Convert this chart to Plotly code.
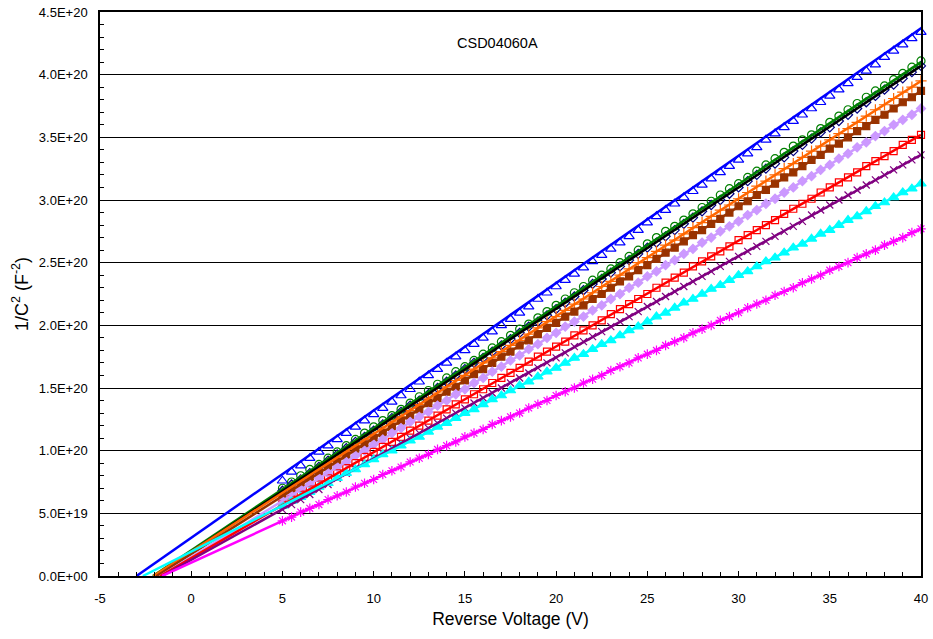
import plotly.graph_objects as go

# Reverse voltage (V) at each measured point
voltage = [5.0, 5.5, 6.0, 6.5, 7.0, 7.5, 8.0, 8.5, 9.0, 9.5,
           10.0, 10.5, 11.0, 11.5, 12.0, 12.5, 13.0, 13.5, 14.0, 14.5,
           15.0, 15.5, 16.0, 16.5, 17.0, 17.5, 18.0, 18.5, 19.0, 19.5,
           20.0, 20.5, 21.0, 21.5, 22.0, 22.5, 23.0, 23.5, 24.0, 24.5,
           25.0, 25.5, 26.0, 26.5, 27.0, 27.5, 28.0, 28.5, 29.0, 29.5,
           30.0, 30.5, 31.0, 31.5, 32.0, 32.5, 33.0, 33.5, 34.0, 34.5,
           35.0, 35.5, 36.0, 36.5, 37.0, 37.5, 38.0, 38.5, 39.0, 39.5, 40.0]

# 1/C^2 values in units of 1E+20 F^-2
s_blue = [0.76, 0.83, 0.88, 0.94, 0.99, 1.04, 1.09, 1.14, 1.19, 1.24,
          1.29, 1.34, 1.39, 1.44, 1.49, 1.55, 1.60, 1.65, 1.70, 1.75,
          1.80, 1.85, 1.90, 1.95, 2.00, 2.05, 2.10, 2.15, 2.21, 2.26,
          2.31, 2.36, 2.41, 2.46, 2.51, 2.56, 2.61, 2.66, 2.71, 2.76,
          2.82, 2.87, 2.92, 2.97, 3.02, 3.07, 3.12, 3.17, 3.22, 3.27,
          3.32, 3.37, 3.42, 3.48, 3.53, 3.58, 3.63, 3.68, 3.73, 3.78,
          3.83, 3.88, 3.93, 3.98, 4.03, 4.08, 4.14, 4.19, 4.24, 4.29, 4.34]
s_green = [0.70, 0.75, 0.80, 0.85, 0.89, 0.94, 0.99, 1.04, 1.09, 1.14,
           1.19, 1.24, 1.28, 1.33, 1.38, 1.43, 1.48, 1.53, 1.58, 1.63,
           1.67, 1.72, 1.77, 1.82, 1.87, 1.92, 1.97, 2.01, 2.06, 2.11,
           2.16, 2.21, 2.26, 2.31, 2.36, 2.40, 2.45, 2.50, 2.55, 2.60,
           2.65, 2.70, 2.75, 2.79, 2.84, 2.89, 2.94, 2.99, 3.04, 3.09,
           3.13, 3.18, 3.23, 3.28, 3.33, 3.38, 3.43, 3.48, 3.52, 3.57,
           3.62, 3.67, 3.72, 3.77, 3.82, 3.87, 3.91, 3.96, 4.01, 4.06, 4.11]
s_navy = [0.68, 0.73, 0.77, 0.82, 0.87, 0.92, 0.97, 1.02, 1.07, 1.11,
          1.16, 1.21, 1.26, 1.31, 1.36, 1.40, 1.45, 1.50, 1.55, 1.60,
          1.65, 1.70, 1.74, 1.79, 1.84, 1.89, 1.94, 1.99, 2.03, 2.08,
          2.13, 2.18, 2.23, 2.28, 2.33, 2.37, 2.42, 2.47, 2.52, 2.57,
          2.62, 2.66, 2.71, 2.76, 2.81, 2.86, 2.91, 2.96, 3.00, 3.05,
          3.10, 3.15, 3.20, 3.25, 3.29, 3.34, 3.39, 3.44, 3.49, 3.54,
          3.58, 3.63, 3.68, 3.73, 3.78, 3.83, 3.88, 3.92, 3.97, 4.02, 4.07]
s_orange = [0.66, 0.71, 0.76, 0.80, 0.85, 0.90, 0.95, 0.99, 1.04, 1.09,
            1.13, 1.18, 1.23, 1.27, 1.32, 1.37, 1.42, 1.46, 1.51, 1.56,
            1.60, 1.65, 1.70, 1.74, 1.79, 1.84, 1.88, 1.93, 1.98, 2.03,
            2.07, 2.12, 2.17, 2.21, 2.26, 2.31, 2.35, 2.40, 2.45, 2.50,
            2.54, 2.59, 2.64, 2.68, 2.73, 2.78, 2.82, 2.87, 2.92, 2.96,
            3.01, 3.06, 3.11, 3.15, 3.20, 3.25, 3.29, 3.34, 3.39, 3.43,
            3.48, 3.53, 3.57, 3.62, 3.67, 3.72, 3.76, 3.81, 3.86, 3.90, 3.95]
s_brown = [0.64, 0.68, 0.73, 0.78, 0.82, 0.87, 0.91, 0.96, 1.01, 1.05,
           1.10, 1.14, 1.19, 1.24, 1.28, 1.33, 1.38, 1.42, 1.47, 1.51,
           1.56, 1.61, 1.65, 1.70, 1.75, 1.79, 1.84, 1.88, 1.93, 1.98,
           2.02, 2.07, 2.11, 2.16, 2.21, 2.25, 2.30, 2.35, 2.39, 2.44,
           2.48, 2.53, 2.58, 2.62, 2.67, 2.72, 2.76, 2.81, 2.85, 2.90,
           2.95, 2.99, 3.04, 3.08, 3.13, 3.18, 3.22, 3.27, 3.32, 3.36,
           3.41, 3.45, 3.50, 3.55, 3.59, 3.64, 3.68, 3.73, 3.78, 3.82, 3.87]
s_lavender = [0.60, 0.64, 0.69, 0.73, 0.78, 0.82, 0.87, 0.91, 0.96, 1.00,
              1.05, 1.09, 1.14, 1.18, 1.23, 1.27, 1.31, 1.36, 1.40, 1.45,
              1.49, 1.54, 1.58, 1.63, 1.67, 1.72, 1.76, 1.81, 1.85, 1.90,
              1.94, 1.99, 2.03, 2.07, 2.12, 2.16, 2.21, 2.25, 2.30, 2.34,
              2.39, 2.43, 2.48, 2.52, 2.57, 2.61, 2.66, 2.70, 2.75, 2.79,
              2.83, 2.88, 2.92, 2.97, 3.01, 3.06, 3.10, 3.15, 3.19, 3.24,
              3.28, 3.33, 3.37, 3.42, 3.46, 3.51, 3.55, 3.60, 3.64, 3.68, 3.73]
s_red = [0.57, 0.61, 0.65, 0.69, 0.73, 0.78, 0.82, 0.86, 0.90, 0.95,
         0.99, 1.03, 1.07, 1.11, 1.16, 1.20, 1.24, 1.28, 1.33, 1.37,
         1.41, 1.45, 1.49, 1.54, 1.58, 1.62, 1.66, 1.71, 1.75, 1.79,
         1.83, 1.87, 1.92, 1.96, 2.00, 2.04, 2.09, 2.13, 2.17, 2.21,
         2.25, 2.30, 2.34, 2.38, 2.42, 2.47, 2.51, 2.55, 2.59, 2.63,
         2.68, 2.72, 2.76, 2.80, 2.84, 2.89, 2.93, 2.97, 3.01, 3.06,
         3.10, 3.14, 3.18, 3.22, 3.27, 3.31, 3.35, 3.39, 3.44, 3.48, 3.52]
s_purple = [0.53, 0.57, 0.61, 0.65, 0.69, 0.73, 0.78, 0.82, 0.86, 0.90,
            0.94, 0.98, 1.02, 1.06, 1.10, 1.14, 1.18, 1.22, 1.26, 1.30,
            1.34, 1.38, 1.42, 1.46, 1.50, 1.54, 1.58, 1.62, 1.66, 1.70,
            1.74, 1.78, 1.83, 1.87, 1.91, 1.95, 1.99, 2.03, 2.07, 2.11,
            2.15, 2.19, 2.23, 2.27, 2.31, 2.35, 2.39, 2.43, 2.47, 2.51,
            2.55, 2.59, 2.63, 2.67, 2.71, 2.75, 2.79, 2.83, 2.88, 2.92,
            2.96, 3.00, 3.04, 3.08, 3.12, 3.16, 3.20, 3.24, 3.28, 3.32, 3.36]
s_cyan = [0.56, 0.60, 0.63, 0.67, 0.71, 0.74, 0.78, 0.82, 0.85, 0.89,
          0.93, 0.97, 1.00, 1.04, 1.08, 1.11, 1.15, 1.19, 1.22, 1.26,
          1.30, 1.33, 1.37, 1.41, 1.44, 1.48, 1.52, 1.55, 1.59, 1.63,
          1.66, 1.70, 1.74, 1.77, 1.81, 1.85, 1.88, 1.92, 1.96, 1.99,
          2.03, 2.07, 2.10, 2.14, 2.18, 2.21, 2.25, 2.29, 2.32, 2.36,
          2.40, 2.43, 2.47, 2.51, 2.54, 2.58, 2.62, 2.65, 2.69, 2.73,
          2.76, 2.80, 2.84, 2.87, 2.91, 2.95, 2.98, 3.02, 3.06, 3.09, 3.13]
s_magenta = [0.44, 0.47, 0.51, 0.54, 0.57, 0.61, 0.64, 0.67, 0.71, 0.74,
             0.77, 0.81, 0.84, 0.87, 0.91, 0.94, 0.97, 1.01, 1.04, 1.07,
             1.11, 1.14, 1.17, 1.21, 1.24, 1.27, 1.30, 1.34, 1.37, 1.40,
             1.44, 1.47, 1.50, 1.54, 1.57, 1.60, 1.64, 1.67, 1.70, 1.74,
             1.77, 1.80, 1.84, 1.87, 1.90, 1.94, 1.97, 2.00, 2.04, 2.07,
             2.10, 2.14, 2.17, 2.20, 2.24, 2.27, 2.30, 2.34, 2.37, 2.40,
             2.44, 2.47, 2.50, 2.54, 2.57, 2.60, 2.64, 2.67, 2.70, 2.74, 2.77]

series_values = [s_blue, s_green, s_navy, s_orange, s_brown,
                 s_lavender, s_red, s_purple, s_cyan, s_magenta]

# Linear fits: x-intercept (V) and fitted value at 40 V (1E+20 F^-2)
fit_x0 = [-3.0, -2.1, -2.0, -2.07, -1.9, -1.7, -1.7, -1.6, -2.65, -1.6]
fit_end = [4.37, 4.10, 4.07, 3.95, 3.87, 3.73, 3.52, 3.36, 3.13, 2.77]
fit_xmax = 40

marker_colors = ["#0000FF", "#008000", "#000080", "#FF6600", "#993300",
                 "#CC99FF", "#FF0000", "#800080", "#00FFFF", "#FF00FF"]
line_colors = ["#0000FF", "#008000", "#000000", "#FF6600", "#993300",
               "#CC99FF", "#FF0000", "#800080", "#00FFFF", "#FF00FF"]
marker_symbols = ["triangle-up-open", "circle-open", "diamond-open", "cross-thin-open",
                  "square", "diamond", "square-open", "x-thin-open",
                  "triangle-up", "asterisk-open"]
marker_sizes = [9, 8, 7, 8, 7, 7, 7, 7, 9, 8]

x_ticks = [-5, 0, 5, 10, 15, 20, 25, 30, 35, 40]
x_ticktext = ["-5", "0", "5", "10", "15", "20", "25", "30", "35", "40"]
y_ticks_e20 = [0.0, 0.5, 1.0, 1.5, 2.0, 2.5, 3.0, 3.5, 4.0, 4.5]
y_ticktext = ["0.0E+00", "5.0E+19", "1.0E+20", "1.5E+20", "2.0E+20",
              "2.5E+20", "3.0E+20", "3.5E+20", "4.0E+20", "4.5E+20"]

SCALE = 1e20
FONT = "Arial, 'Liberation Sans', sans-serif"

fig = go.Figure()

for vals, col, sym, sz in zip(series_values, marker_colors, marker_symbols, marker_sizes):
    fig.add_trace(go.Scatter(
        x=voltage, y=[v * SCALE for v in vals], mode="markers",
        marker=dict(symbol=sym, size=sz, color=col,
                    line=dict(color=col, width=1.2)),
        cliponaxis=False, showlegend=False))

for x0, yend, col in zip(fit_x0, fit_end, line_colors):
    fig.add_trace(go.Scatter(
        x=[x0, fit_xmax], y=[0, yend * SCALE], mode="lines",
        line=dict(color=col, width=2.5), showlegend=False))

fig.add_annotation(text="CSD04060A", x=16.8, y=4.25e20, xref="x", yref="y",
                   showarrow=False, font=dict(family=FONT, size=14.5, color="black"))

fig.update_layout(
    width=933, height=639,
    margin=dict(l=100, r=12, t=12, b=63),
    paper_bgcolor="white", plot_bgcolor="white",
    font=dict(family=FONT, size=13, color="black"),
    xaxis=dict(range=[-5, 40], tickmode="array", tickvals=x_ticks, ticktext=x_ticktext,
               ticks="inside", ticklen=5, tickcolor="black",
               minor=dict(tickmode="linear", tick0=0, dtick=1, ticks="inside",
                          ticklen=4, tickcolor="black"),
               showline=True, linecolor="black", linewidth=1.5, mirror=True,
               showgrid=False, zeroline=False, automargin=False,
               ticklabelstandoff=10,
               title=dict(text="Reverse Voltage (V)", font=dict(size=17.5), standoff=7),
               tickfont=dict(size=13)),
    yaxis=dict(range=[0, 4.5e20], tickmode="array",
               tickvals=[v * SCALE for v in y_ticks_e20], ticktext=y_ticktext,
               ticks="inside", ticklen=5, tickcolor="black",
               minor=dict(tickmode="linear", tick0=0, dtick=1e19, ticks="inside",
                          ticklen=4, tickcolor="black", showgrid=False),
               showline=True, linecolor="black", linewidth=1.5, mirror=True,
               showgrid=True, gridcolor="black", gridwidth=1, zeroline=False,
               automargin=False, ticklabelstandoff=8,
               title=dict(text="1/C<sup>2</sup> (F<sup>-2</sup>)", font=dict(size=18),
                          standoff=6),
               tickfont=dict(size=13)),
)

fig.write_html("out.html", config={"displayModeBar": False},
               post_script="document.body.style.margin='0';document.body.style.overflow='hidden';")
